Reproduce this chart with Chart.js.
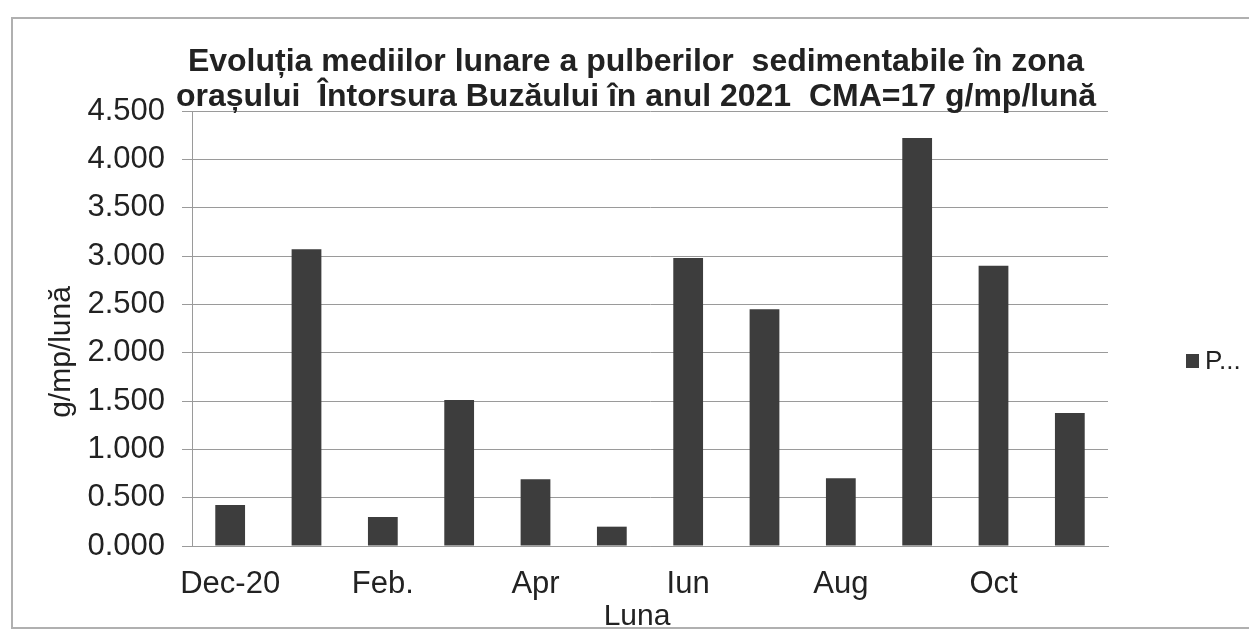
<!DOCTYPE html>
<html>
<head>
<meta charset="utf-8">
<script src="https://cdn.jsdelivr.net/npm/chart.js@4"></script>
<style>
  body { margin: 0; background: #fff; }
  #wrap { width: 1249px; height: 636px; }
</style>
</head>
<body>
<div id="wrap"><canvas id="myChart" width="1249" height="636"></canvas></div>
<script>
// Data
const months = ["Dec-20", "Ian.", "Feb.", "Mar.", "Apr", "Mai", "Iun", "Iul", "Aug", "Sep", "Oct", "Nov"];
const values = [0.425, 3.07, 0.30, 1.51, 0.69, 0.20, 2.98, 2.45, 0.70, 4.22, 2.90, 1.375];
const seriesName = "P...";
const titleLines = [
  "Evoluția mediilor lunare a pulberilor  sedimentabile în zona",
  "orașului  Întorsura Buzăului în anul 2021  CMA=17 g/mp/lună",
];
const yTitle = "g/mp/lună";
const xTitle = "Luna";

const fontFamily = "'Liberation Sans', Arial, sans-serif";
const textColor = "#222";
const barColor = "#3d3d3d";
const gridColor = "#9a9a9a";

// Title, axis titles, legend and the frame drawn by hand so they can overlap like the original
const extras = {
  id: "extras",
  afterDraw(chart) {
    const c = chart.ctx;
    c.save();
    // frame
    c.strokeStyle = "#b0b0b0";
    c.lineWidth = 2;
    c.strokeRect(12, 18, 1250, 610);

    // title
    c.fillStyle = textColor;
    c.font = "bold 32px " + fontFamily;
    c.textAlign = "center";
    c.textBaseline = "middle";
    c.fillText(titleLines[0], 636, 62);
    c.fillText(titleLines[1], 636, 97);

    // x axis title
    c.font = "30px " + fontFamily;
    c.fillText(xTitle, 637, 617);

    // y axis title
    c.save();
    c.translate(62, 352);
    c.rotate(-Math.PI / 2);
    c.fillText(yTitle, 0, 0);
    c.restore();

    // legend
    c.fillStyle = barColor;
    c.fillRect(1186, 354, 13, 14);
    c.fillStyle = textColor;
    c.font = "26px " + fontFamily;
    c.textAlign = "left";
    c.fillText(seriesName, 1205, 362);
    c.restore();
  },
};

const ctx = document.getElementById("myChart").getContext("2d");
const chart = new Chart(ctx, {
  type: "bar",
  data: {
    labels: months,
    datasets: [
      {
        label: seriesName,
        data: values,
        backgroundColor: barColor,
        barPercentage: 0.39,
        categoryPercentage: 1,
      },
    ],
  },
  options: {
    responsive: false,
    animation: false,
    layout: { padding: { left: 0, top: 111, right: 141, bottom: 0 } },
    plugins: {
      legend: { display: false },
      title: { display: false },
      tooltip: { enabled: false },
    },
    scales: {
      x: {
        grid: { display: false },
        border: { display: true, color: gridColor },
        ticks: {
          autoSkip: false,
          maxRotation: 0,
          padding: 12,
          color: textColor,
          font: { family: fontFamily, size: 31 },
          callback: function (value, index) {
            return index % 2 === 0 ? months[index] : "";
          },
        },
        afterFit: function (scale) {
          scale.height = 90;
        },
      },
      y: {
        min: 0,
        max: 4.5,
        ticks: {
          stepSize: 0.5,
          padding: 17,
          color: textColor,
          font: { family: fontFamily, size: 31 },
          callback: function (value) {
            return value.toFixed(3);
          },
        },
        grid: { color: gridColor, tickLength: 10, drawTicks: true },
        border: { display: true, color: gridColor },
        afterFit: function (scale) {
          scale.width = 192;
        },
      },
    },
  },
  plugins: [extras],
});
</script>
</body>
</html>
